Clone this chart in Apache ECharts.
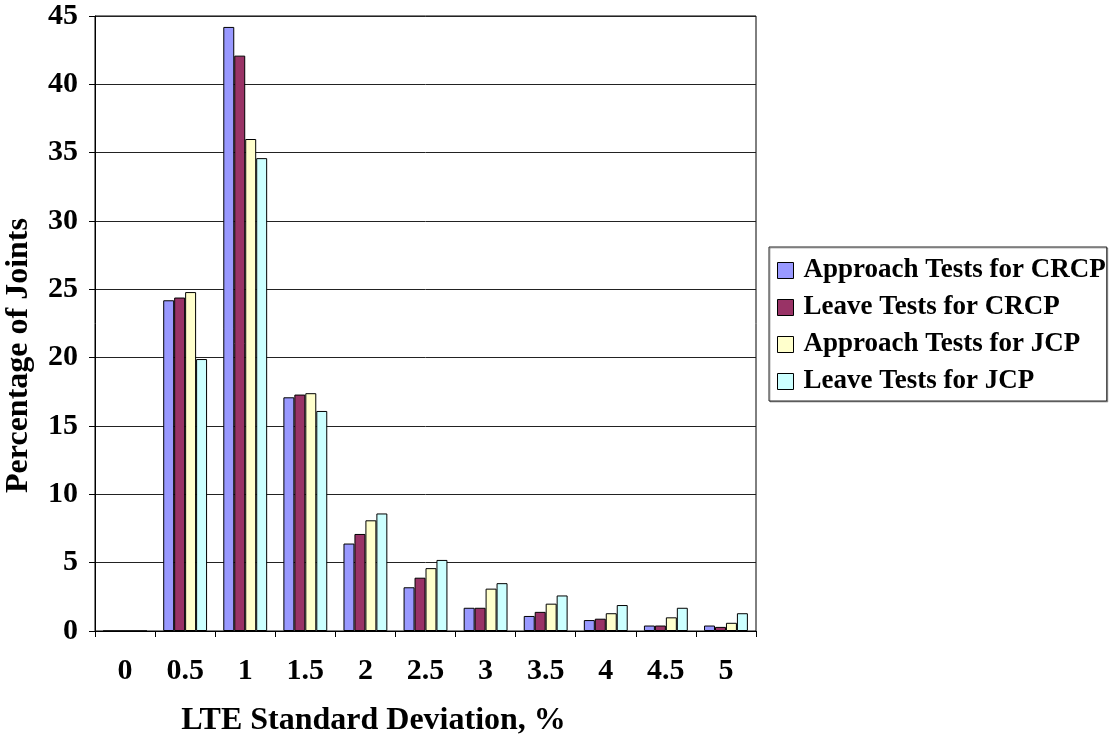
<!DOCTYPE html>
<html>
<head>
<meta charset="utf-8">
<script src="https://cdn.jsdelivr.net/npm/echarts@6/dist/echarts.min.js"></script>
<style>
  html, body { margin: 0; padding: 0; background: #fff; }
  #chart { width: 1110px; height: 736px; }
</style>
</head>
<body>
<div id="chart"></div>
<script>
// LTE standard deviation bins (%)
var categories = ['0', '0.5', '1', '1.5', '2', '2.5', '3', '3.5', '4', '4.5', '5'];

// Percentage of joints per bin
var approachCRCP = [0, 24.2, 44.2, 17.1, 6.4, 3.2, 1.7, 1.1, 0.8, 0.4, 0.4];
var leaveCRCP    = [0, 24.4, 42.1, 17.3, 7.1, 3.9, 1.7, 1.4, 0.9, 0.4, 0.3];
var approachJCP  = [0, 24.8, 36.0, 17.4, 8.1, 4.6, 3.1, 2.0, 1.3, 1.0, 0.6];
var leaveJCP     = [0, 19.9, 34.6, 16.1, 8.6, 5.2, 3.5, 2.6, 1.9, 1.7, 1.3];

var seriesNames = ['Approach Tests for CRCP', 'Leave Tests for CRCP', 'Approach Tests for JCP', 'Leave Tests for JCP'];
var seriesData = [approachCRCP, leaveCRCP, approachJCP, leaveJCP];
var seriesColors = ['#9999FF', '#993366', '#FFFFCC', '#CCFFFF'];

var yTicks = { min: 0, max: 45, interval: 5 };

var font = '"Liberation Serif", "Times New Roman", serif';

var chart = echarts.init(document.getElementById('chart'), null, { renderer: 'canvas' });

chart.setOption({
  animation: false,
  backgroundColor: '#ffffff',
  textStyle: { fontFamily: font },
  grid: { left: 95, right: 354, top: 16, bottom: 105,
          outerBoundsMode: 'none', containLabel: false,
          show: true, borderColor: '#000', borderWidth: 1 },
  legend: {
    orient: 'vertical',
    left: 769, top: 247,
    padding: [10, 1, 6, 8],
    itemWidth: 16, itemHeight: 16, itemGap: 10,
    backgroundColor: '#fff',
    borderColor: '#222', borderWidth: 1,
    shadowColor: 'rgba(0,0,0,0.3)', shadowOffsetX: 1, shadowOffsetY: 1,
    icon: 'rect',
    itemStyle: { borderColor: '#000', borderWidth: 1 },
    textStyle: { fontFamily: font, fontWeight: 'bold', fontSize: 27, color: '#000', padding: [0, 0, 0, 5] },
    data: seriesNames
  },
  xAxis: {
    type: 'category',
    data: categories,
    name: 'LTE Standard Deviation, %',
    nameLocation: 'middle',
    nameGap: 74,
    // title sits left of the plot centre
    nameTextStyle: { fontFamily: font, fontWeight: 'bold', fontSize: 32, color: '#000', padding: [0, 104, 0, 0] },
    axisLine: { lineStyle: { color: '#000', width: 1 } },
    axisTick: { show: true, length: 6, lineStyle: { color: '#000' }, alignWithLabel: false },
    axisLabel: { fontFamily: font, fontWeight: 'bold', fontSize: 30, color: '#000', margin: 25 },
    splitLine: { show: false }
  },
  yAxis: {
    type: 'value',
    min: yTicks.min, max: yTicks.max, interval: yTicks.interval,
    name: 'Percentage of Joints',
    nameLocation: 'middle',
    nameGap: 60,
    // title sits below the plot centre
    nameTextStyle: { fontFamily: font, fontWeight: 'bold', fontSize: 32, color: '#000', padding: [0, 64, 0, 0] },
    axisLine: { show: true, lineStyle: { color: '#000', width: 1 } },
    axisTick: { show: true, length: 6, lineStyle: { color: '#000' } },
    axisLabel: { fontFamily: font, fontWeight: 'bold', fontSize: 30, color: '#000', margin: 17 },
    splitLine: { show: true, lineStyle: { color: '#222', width: 1 } }
  },
  series: seriesNames.map(function (name, i) {
    return {
      name: name,
      type: 'bar',
      data: seriesData[i],
      barGap: '0%',
      barCategoryGap: '27%',
      itemStyle: { color: seriesColors[i], borderColor: '#000', borderWidth: 1 }
    };
  })
});
</script>
</body>
</html>
